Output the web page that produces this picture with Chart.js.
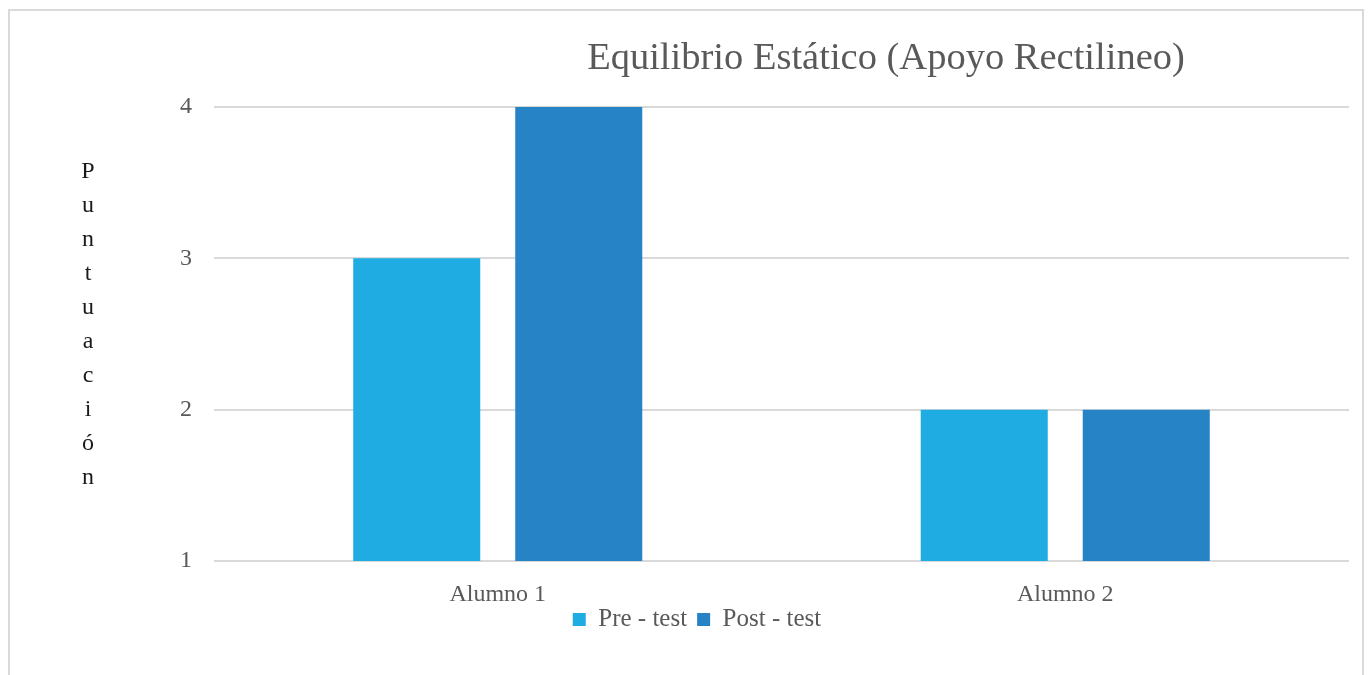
<!DOCTYPE html>
<html><head><meta charset="utf-8">
<script src="https://cdn.jsdelivr.net/npm/chart.js@4"></script>
<style>
html,body{margin:0;padding:0;background:#fff;}
#wrap{position:absolute;left:0;top:0;width:1369px;height:675px;}
#frame{position:absolute;left:8px;top:9px;width:1356px;height:700px;border:2px solid #d9d9d9;box-sizing:border-box;}
canvas{position:absolute;left:0;top:0;}
</style></head><body>
<div id="wrap"><div id="frame"></div><canvas id="c" width="1369" height="675"></canvas></div>
<script>
const categories = ['Alumno 1', 'Alumno 2'];
const preTest = [3, 2];
const postTest = [4, 2];
const seriesNames = ['Pre - test', 'Post - test'];
const yTicks = [1, 2, 3, 4];
const chartTitle = 'Equilibrio Estático (Apoyo Rectilineo)';
const yTitle = 'Puntuación';

const FONT = "'Liberation Serif', 'DejaVu Serif', serif";

const extras = {
  id: 'extras',
  afterDraw(chart) {
    const ctx = chart.ctx;
    ctx.save();
    ctx.fillStyle = '#595959';
    ctx.font = '38.5px ' + FONT;
    ctx.textAlign = 'center';
    ctx.textBaseline = 'middle';
    ctx.fillText(chartTitle, 886, 59);
    ctx.fillStyle = '#1a1a1a';
    ctx.font = '24px ' + FONT;
    const letters = Array.from(yTitle);
    letters.forEach((ch, i) => ctx.fillText(ch, 88, 172 + i * 34));
    ctx.restore();
  }
};

new Chart(document.getElementById('c'), {
  type: 'bar',
  data: {
    labels: categories,
    datasets: [
      { label: seriesNames[0], data: preTest, backgroundColor: '#1EACE3', barPercentage: 0.784, categoryPercentage: 0.571 },
      { label: seriesNames[1], data: postTest, backgroundColor: '#2683C6', barPercentage: 0.784, categoryPercentage: 0.571 }
    ]
  },
  options: {
    responsive: false,
    animation: false,
    layout: { padding: { left: 45, right: 20, top: 107, bottom: 33 } },
    plugins: {
      title: { display: false },
      tooltip: { enabled: false },
      legend: {
        position: 'bottom',
        labels: { boxWidth: 13, boxHeight: 13, color: '#595959', font: { family: FONT, size: 25 }, padding: 10 }
      }
    },
    scales: {
      x: {
        afterFit(s) { s.height = 36; s._computeLabelArea = function () { return undefined; }; },
        grid: { display: false, drawTicks: false, tickLength: 0 },
        border: { display: false },
        ticks: { color: '#595959', font: { family: FONT, size: 24 }, padding: 19 }
      },
      y: {
        min: 1, max: 4,
        afterFit(s) { s.width = 169; },
        afterBuildTicks(s) { s.ticks = yTicks.map(v => ({ value: v })); },
        grid: { color: '#d9d9d9', lineWidth: 2, drawTicks: false },
        border: { display: false },
        ticks: { color: '#595959', font: { family: FONT, size: 24 }, padding: 22 }
      }
    }
  },
  plugins: [extras]
});
</script>
</body></html>
